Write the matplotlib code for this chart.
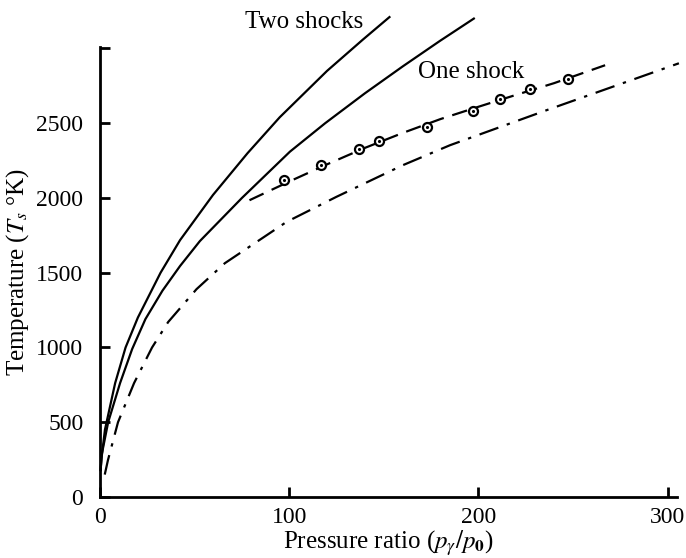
import matplotlib.pyplot as plt

plt.rcParams['font.family'] = 'Liberation Serif'
plt.rcParams['mathtext.fontset'] = 'stix'

# Courbe "Two shocks"
two_x = [0.3, 0.8, 2.6, 8, 13.5, 20, 32, 42.3, 59.7, 78, 95, 120, 139, 153]
two_y = [180, 260, 450, 762, 1000, 1200, 1500, 1718, 2020, 2300, 2540, 2850, 3060, 3210]

# Courbe "One shock"
one_x = [0.3, 1, 4.3, 10.6, 17, 24, 33, 42.3, 52.8, 75, 100.4, 119, 140, 160, 179.6, 197.6]
one_y = [180, 290, 500, 762, 990, 1190, 1380, 1545, 1712, 2000, 2310, 2500, 2700, 2880, 3050, 3200]

# Courbe mixte (trait-point)
dd_x = [2.5, 4.2, 9.5, 18, 27.5, 36, 51, 66, 98.6, 125, 160, 185, 236, 306]
dd_y = [150, 247, 500, 762, 1000, 1170, 1390, 1564, 1840, 2008, 2219, 2353, 2587, 2901]

# Courbe tiretée passant par les mesures
dash_x = [79, 100, 120, 140, 160, 180, 200, 220, 240, 267]
dash_y = [1985, 2110, 2225, 2335, 2435, 2528, 2610, 2690, 2768, 2888]

# Points mesurés
mes_x = [97, 117, 137, 147.6, 173, 197, 211.6, 227.5, 247.6]
mes_y = [2119, 2219, 2326, 2380, 2473, 2580, 2660, 2727, 2794]

xticks = [0, 100, 200, 300]
yticks = [0, 500, 1000, 1500, 2000, 2500, 3000]
ylabels = ['0', '500', '1000', '1500', '2000', '2500', '']

fig = plt.figure(figsize=(6.86, 5.58), dpi=100)
ax = fig.add_axes([0.1458, 0.1093, 0.8411, 0.8065])

ax.plot(two_x, two_y, c='k', lw=1.6, clip_on=False)
ax.plot(one_x, one_y, c='k', lw=1.6, clip_on=False)
ax.plot(dd_x, dd_y, c='k', lw=1.6, dashes=[9, 4, 1.5, 4], clip_on=False)
ax.plot(dash_x, dash_y, c='k', lw=1.6, dashes=[7, 4], clip_on=False)
ax.plot(mes_x, mes_y, ls='none', marker='o', ms=6.5, mfc='white', mec='k', mew=1.6, clip_on=False)
ax.plot(mes_x, mes_y, ls='none', marker='.', ms=2.5, c='k', clip_on=False)

ax.text(108, 3175, 'Two shocks', fontsize=18, ha='center', va='center')
ax.text(168, 2841, 'One shock', fontsize=18, ha='left', va='center')

ax.set_xlim(0, 305)
ax.set_ylim(0, 3010)
ax.set_xticks(xticks)
ax.set_yticks(yticks)
ax.set_yticklabels(ylabels)
ax.tick_params(direction='in', length=7, width=2, labelsize=17)
ax.tick_params(axis='x', pad=7)
ax.tick_params(axis='y', pad=12)
ax.spines['top'].set_visible(False)
ax.spines['right'].set_visible(False)
ax.spines['left'].set_linewidth(2)
ax.spines['bottom'].set_linewidth(2)

ax.set_xlabel(r'Pressure ratio ($p_\gamma/p_\mathbf{0}$)', fontsize=18, labelpad=0)
ax.set_ylabel(r'Temperature ($T_s$ °K)', fontsize=18, labelpad=4)

fig.savefig('out.png', dpi=100)
